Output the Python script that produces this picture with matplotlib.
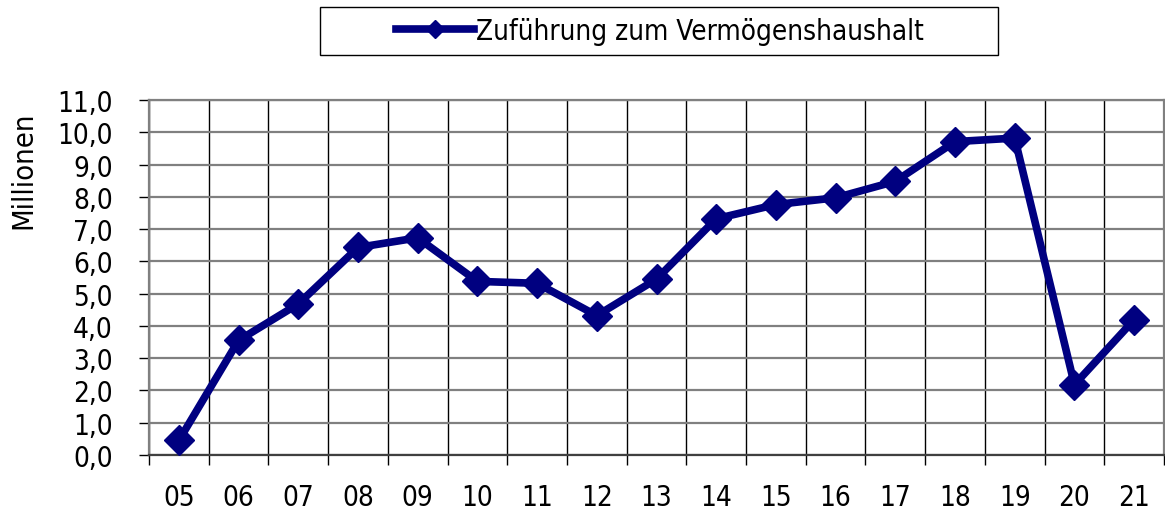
import matplotlib
matplotlib.use("Agg")
import matplotlib.pyplot as plt
from matplotlib.patches import Rectangle
from matplotlib.ticker import MultipleLocator, FuncFormatter, FixedLocator

plt.rcParams['font.family'] = ['DejaVu Sans']
plt.rcParams['font.stretch'] = 'condensed'

jahre = ["05", "06", "07", "08", "09", "10", "11", "12", "13",
         "14", "15", "16", "17", "18", "19", "20", "21"]
zufuehrung = [0.45, 3.55, 4.68, 6.43, 6.73, 5.38, 5.32, 4.32, 5.45,
              7.32, 7.76, 7.97, 8.48, 9.71, 9.82, 2.18, 4.19]
serie_name = "Zuführung zum Vermögenshaushalt"

navy = "#000080"

fig = plt.figure(figsize=(11.65, 5.10), dpi=100)
ax = fig.add_axes([149 / 1165, 1 - 456 / 510, 1015 / 1165, 355 / 510])

x = range(len(jahre))
ax.plot(x, zufuehrung, color=navy, lw=5.5, marker="D", ms=15,
        label=serie_name, zorder=5, clip_on=False)

ax.set_xlim(-0.5, len(jahre) - 0.5)
ax.set_ylim(0, 11)

# x: labels in der Mitte, Striche an den Grenzen
ax.set_xticks(list(x))
ax.set_xticklabels(jahre)
ax.tick_params(axis="x", which="major", length=0, pad=20, labelsize=20)
ax.xaxis.set_minor_locator(FixedLocator([i - 0.5 for i in range(len(jahre) + 1)]))
ax.tick_params(axis="x", which="minor", length=7, width=1, color="black")
ax.grid(True, axis="x", which="minor", color="black", lw=1)

ax.yaxis.set_major_locator(MultipleLocator(1))
ax.yaxis.set_major_formatter(FuncFormatter(lambda v, p: f"{v:.1f}".replace(".", ",")))
ax.tick_params(axis="y", length=7, width=1, color="black", pad=19, labelsize=20)
ax.grid(True, axis="y", color="#808080", lw=1.6)
ax.set_axisbelow(True)

for s in ["left", "top", "right"]:
    ax.spines[s].set_color("#808080")
    ax.spines[s].set_linewidth(1.6)
ax.spines["bottom"].set_color("#404040")
ax.spines["bottom"].set_linewidth(1.6)

ax.set_ylabel("Millionen", fontsize=21)
ax.yaxis.set_label_coords(-0.11, 0.805)

# Legende
fig.patches.append(Rectangle((320 / 1165, 1 - 56 / 510), 678 / 1165, 48 / 510,
                             transform=fig.transFigure, fill=False,
                             edgecolor="black", lw=1))
handles, labels = ax.get_legend_handles_labels()
fig.legend(handles, labels, loc="center", bbox_to_anchor=(660 / 1165, 1 - 32 / 510),
           frameon=False, fontsize=20, handlelength=2.8, handletextpad=0.1,
           markerscale=0.6)

fig.savefig("out.png", dpi=100)
